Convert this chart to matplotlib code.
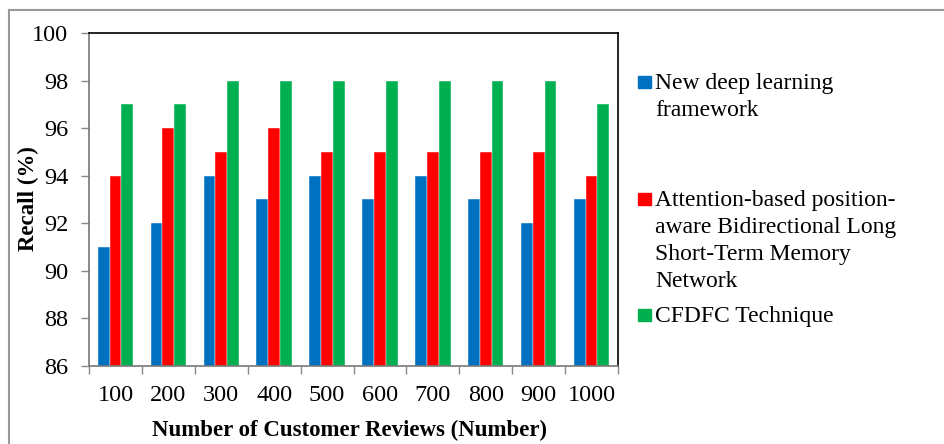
import matplotlib

matplotlib.use("Agg")
import matplotlib.pyplot as plt  # noqa: E402
import numpy as np  # noqa: E402
from matplotlib.lines import Line2D  # noqa: E402
from matplotlib.patches import Rectangle  # noqa: E402

reviews = ["100", "200", "300", "400", "500", "600", "700", "800", "900", "1000"]
series_names = [
    ["New deep learning", "framework"],
    ["Attention-based position-", "aware Bidirectional Long",
     "Short-Term Memory", "Network"],
    ["CFDFC Technique"],
]
new_dl = [91, 92, 94, 93, 94, 93, 94, 93, 92, 93]
apa_bilstm = [94, 96, 95, 96, 95, 95, 95, 95, 95, 94]
cfdfc = [97, 97, 98, 98, 98, 98, 98, 98, 98, 97]
colors = ["#0070C0", "#FF0000", "#00B050"]

plt.rcParams["font.family"] = ["Liberation Serif", "DejaVu Serif"]

W, H = 944, 444
fig = plt.figure(figsize=(W / 100, H / 100), dpi=100)
ax = fig.add_axes([89 / W, 1 - 366 / H, (618 - 89) / W, (366 - 33) / H])

x = np.arange(len(reviews))
width = 0.223
for i, vals in enumerate([new_dl, apa_bilstm, cfdfc]):
    ax.bar(x + (i - 1) * width, np.array(vals) - 86, width, bottom=86,
           color=colors[i], edgecolor="white", linewidth=0.3, zorder=2)

ax.set_ylim(86, 100)
ax.set_xlim(-0.5, len(reviews) - 0.5)
ax.set_yticks(range(86, 101, 2))
ax.set_xticks(x)
ax.set_xticklabels(reviews)
ax.set_xticks(np.arange(-0.5, len(reviews)), minor=True)
ax.tick_params(axis="x", which="major", length=0, pad=14, labelsize=17.5)
ax.tick_params(axis="x", which="minor", length=6, color="#888888", width=1)
ax.tick_params(axis="y", length=6, color="#888888", width=1, pad=9, labelsize=17.5)
for side in ["top", "right"]:
    ax.spines[side].set_color("black")
    ax.spines[side].set_linewidth(1.2)
for side in ["left", "bottom"]:
    ax.spines[side].set_color("#777777")
    ax.spines[side].set_linewidth(1.2)

fig.text(28 / W, 1 - 199 / H, "Recall (%)", fontsize=16.5, fontweight="bold",
         rotation=90, ha="center", va="center")
fig.text(350 / W, 1 - 436 / H, "Number of Customer Reviews (Number)",
         fontsize=16.5, fontweight="bold", ha="center", va="baseline")

# legend: coloured squares with wrapped labels on the right
legend_baselines = [89, 206, 322]
line_step = 27
for color, lines, base in zip(colors, series_names, legend_baselines):
    fig.add_artist(Rectangle((638 / W, 1 - (base - 1) / H), 13 / W, 12 / H,
                             transform=fig.transFigure, color=color))
    for k, line in enumerate(lines):
        fig.text(655 / W, 1 - (base + k * line_step) / H, line, fontsize=17,
                 va="baseline", ha="left")

# outer chart frame
fig.add_artist(Line2D([8.5 / W, 1], [1 - 10.5 / H] * 2, color="#999999", lw=1.5,
                      transform=fig.transFigure))
fig.add_artist(Line2D([8.5 / W] * 2, [0, 1 - 10.5 / H], color="#999999", lw=1.5,
                      transform=fig.transFigure))

fig.savefig("out.png", dpi=100)
